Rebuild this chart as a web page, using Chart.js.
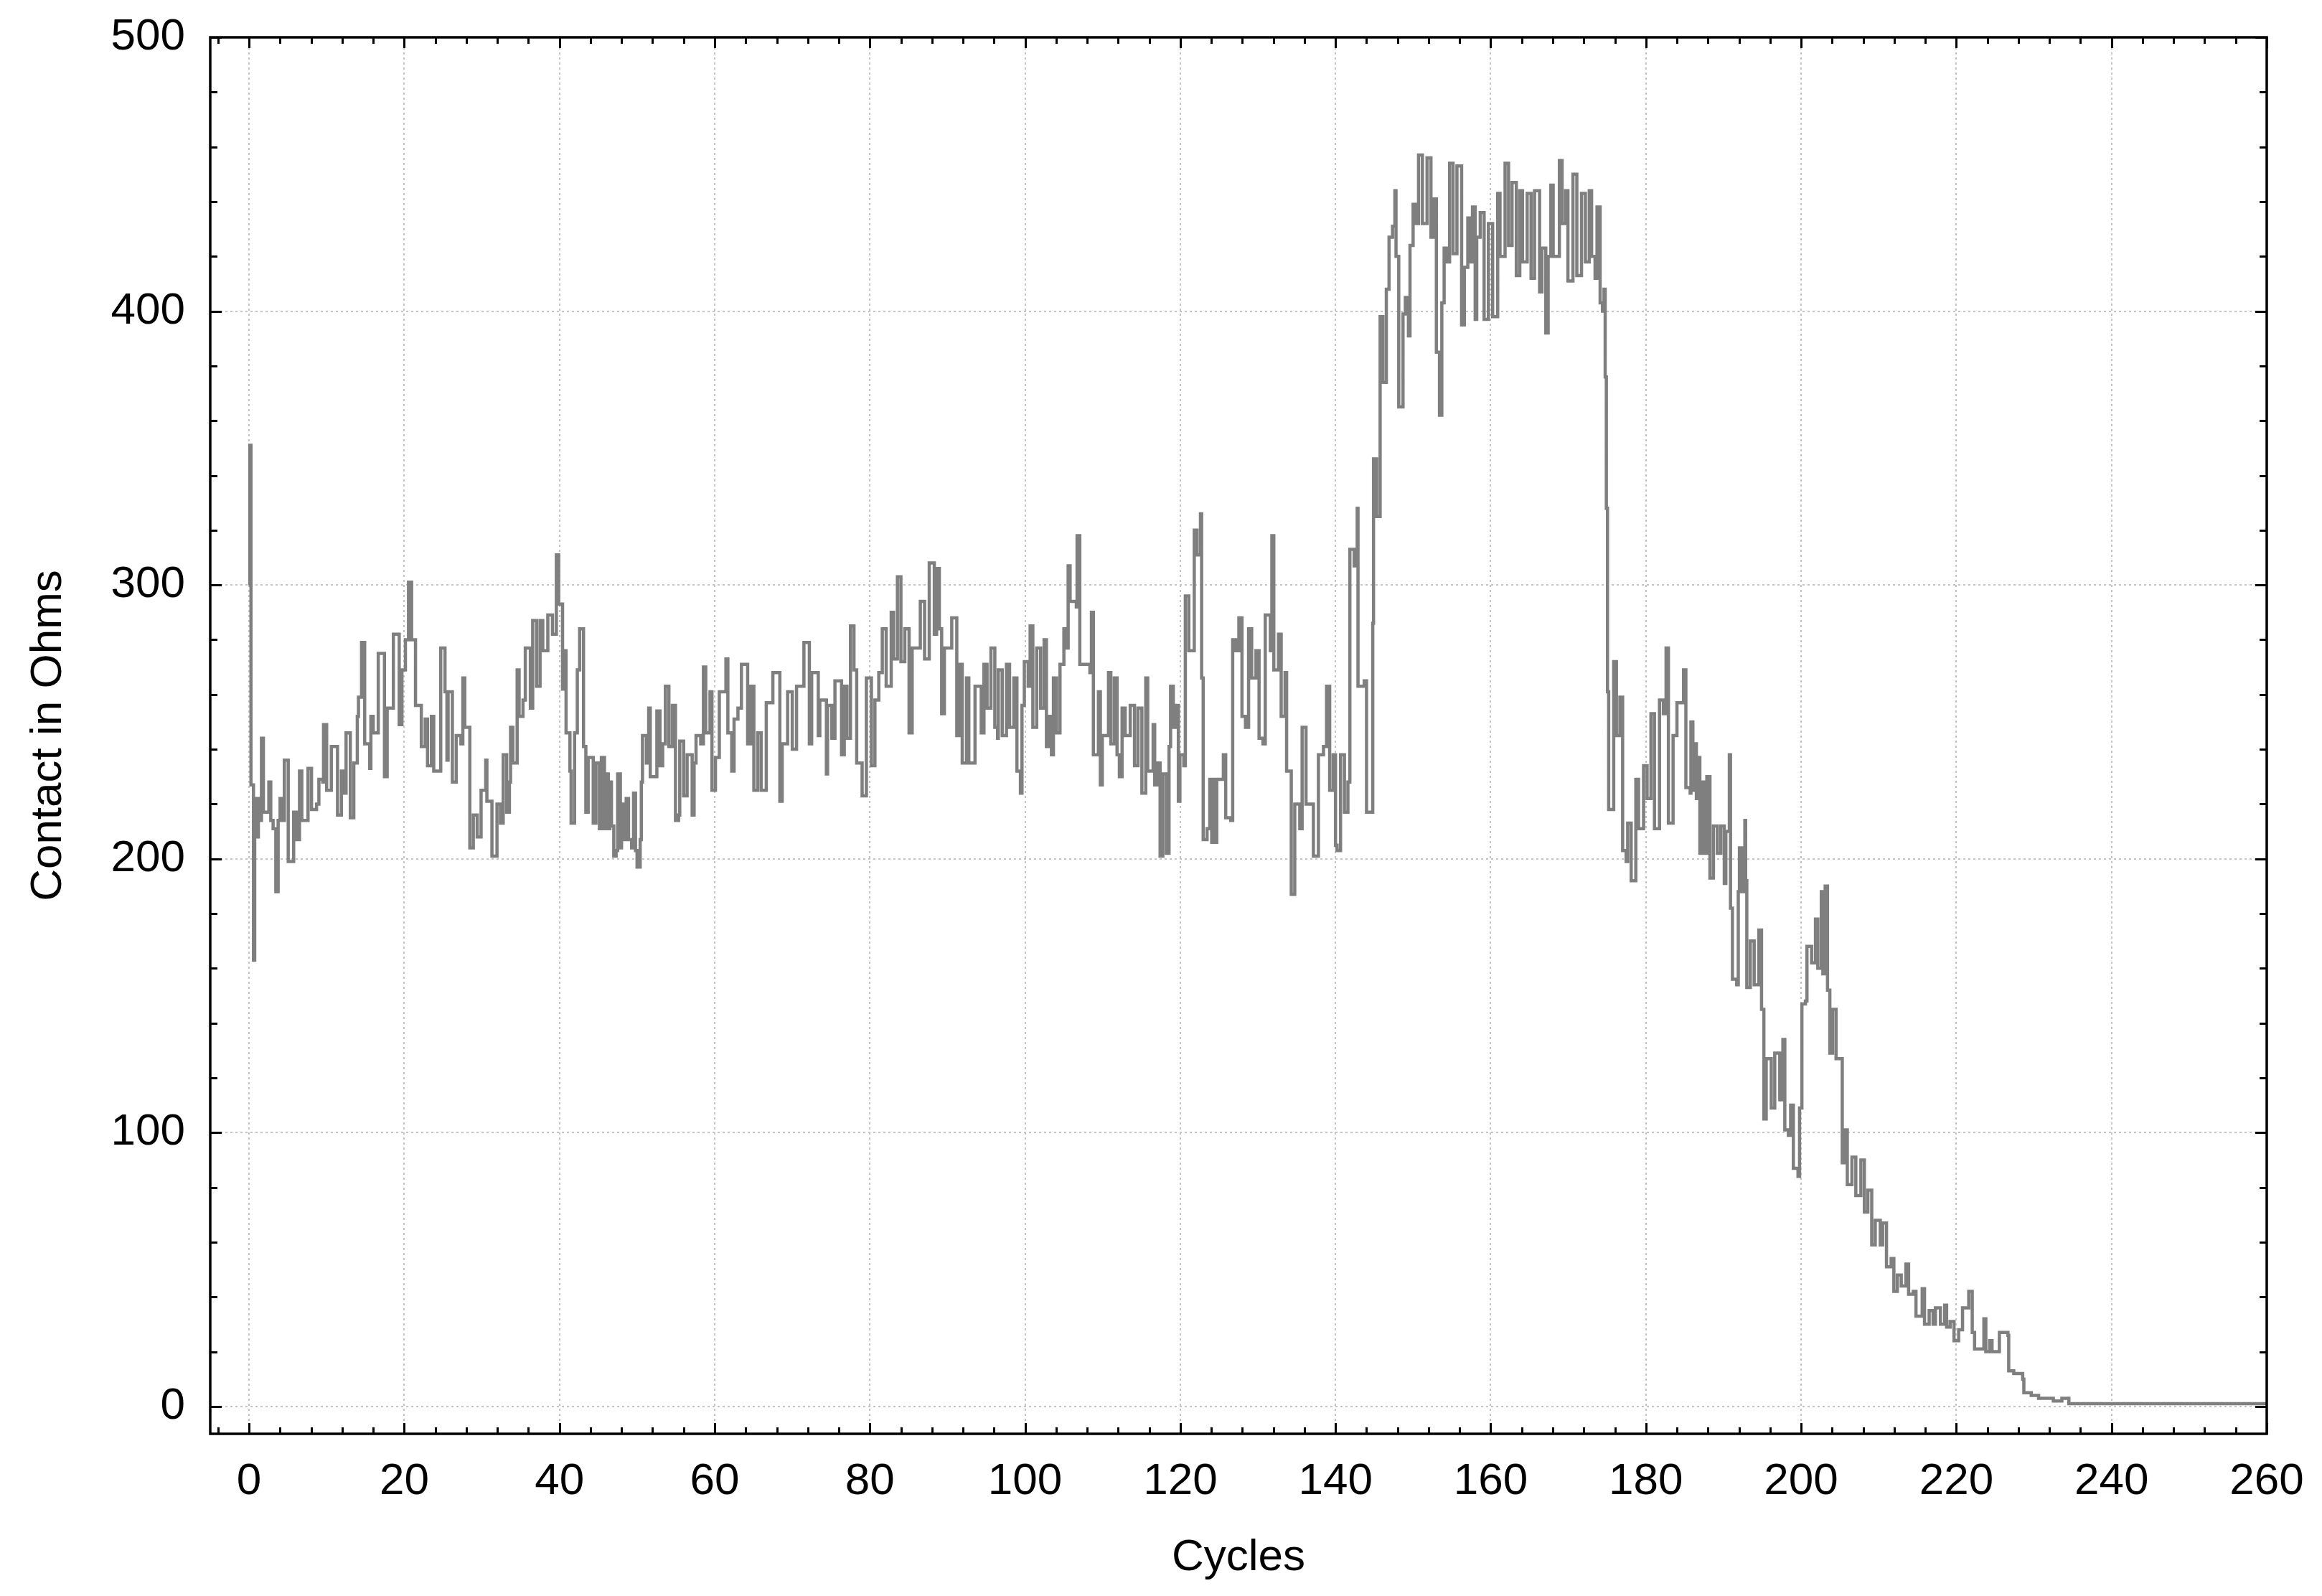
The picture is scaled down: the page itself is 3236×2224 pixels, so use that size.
<!DOCTYPE html>
<html>
<head>
<meta charset="utf-8">
<script src="https://cdn.jsdelivr.net/npm/chart.js@4/dist/chart.umd.min.js"></script>
<style>
  html, body { margin: 0; padding: 0; background: #ffffff; }
  #wrap { width: 3236px; height: 2224px; }
</style>
</head>
<body>
<div id="wrap"><canvas id="c" width="3236" height="2224"></canvas></div>
<script>
// ---- Data (cycle position, contact resistance in ohms) ----
const cycles = [
  0, 0.1, 0.25, 0.57, 0.73, 0.9, 1.05, 1.2, 1.37, 1.6,
  1.85, 2.55, 2.8, 3.1, 3.45, 3.75, 4.0, 4.35, 4.55, 5.05,
  5.75, 6.15, 6.5, 6.8, 7.6, 8.05, 8.7, 9.0, 9.5, 9.6,
  10.0, 10.6, 11.4, 11.9, 12.2, 12.5, 13.05, 13.5, 13.95, 14.1,
  14.5, 14.9, 15.55, 15.7, 16.0, 16.65, 17.45, 17.8, 18.6, 19.35,
  19.7, 20.15, 20.55, 20.95, 21.45, 22.2, 22.7, 23.0, 23.5, 23.8,
  24.7, 25.25, 25.5, 25.65, 26.2, 26.7, 27.3, 27.55, 27.8, 28.45,
  28.9, 29.4, 29.9, 30.5, 30.65, 31.3, 31.95, 32.4, 32.75, 33.2,
  33.55, 33.7, 34.0, 34.55, 34.8, 35.3, 35.6, 36.25, 36.55, 37.05,
  37.5, 37.85, 38.5, 39.1, 39.6, 39.9, 40.4, 40.7, 40.85, 41.35,
  41.5, 41.95, 42.3, 42.6, 43.1, 43.4, 43.7, 44.35, 44.7,
  45.15, 45.4, 45.8, 45.95, 46.3, 46.5, 46.7, 47.0, 47.3, 47.5,
  47.85, 48.0, 48.35, 48.6, 48.9, 49.3, 49.55, 49.8, 50.0, 50.4,
  50.55, 50.7, 51.2, 51.5, 51.7, 52.4, 52.55, 52.95, 53.3, 53.65,
  54.1, 54.55, 54.95, 55.35, 55.5, 56.0, 56.45, 57.1, 57.35, 57.6,
  58.2, 58.55, 58.85, 59.4, 59.65, 60.1, 60.6, 61.45, 61.7, 62.2,
  62.5, 63.0, 63.45, 64.25, 64.65, 65.05, 65.55, 66.0, 66.65, 67.5,
  68.4, 68.7, 69.4, 70.0, 70.55, 71.5, 72.2, 72.5, 73.35, 73.55,
  74.4, 74.55, 75.1, 75.5, 76.35, 76.7, 77.05, 77.5, 77.95, 78.3,
  79.0, 79.55, 80.2, 80.65, 81.15, 81.6, 82.1, 82.75, 83.05, 83.55,
  84.0, 84.5, 85.05, 85.45, 86.5, 87.05, 87.65, 88.3, 88.6, 88.95,
  89.25, 89.6, 90.55, 91.2, 91.5, 91.9, 92.45, 92.75, 93.55, 94.35,
  94.7,
  95.1, 95.6, 96.1, 96.45, 96.55, 97.05, 97.6, 98.0, 98.55, 98.95,
  99.4, 99.6, 99.9, 100.4, 100.65, 101.0, 101.5, 102.0, 102.45, 102.75,
  103.1, 103.4, 103.65, 104.05, 104.5, 105.0, 105.3, 105.55, 105.8, 106.6,
  106.7, 107.05, 108.35, 108.55, 108.8, 109.45, 109.7, 109.95, 110.75, 111.05,
  111.5, 111.85, 112.15, 112.5, 112.9, 113.55, 114.1, 114.55, 115.05, 115.55,
  115.8, 116.5, 116.7, 117.05, 117.4, 117.75, 118.2, 118.55, 118.75, 119.1,
  119.5, 119.75, 119.95, 120.45, 120.65, 121.1, 121.8, 122.15, 122.6, 122.75,
  122.95, 123.45, 123.8, 124.05, 124.25, 124.45, 124.7, 125.55, 125.85, 126.5,
  126.75, 127.15, 127.55, 127.95, 128.4, 128.8, 129.2, 129.75, 130.15, 130.65,
  130.95, 131.6, 131.8, 132.05, 132.65, 133.0, 133.5, 133.7, 134.3, 134.75,
  135.4, 135.7, 136.2, 137.15, 137.8, 138.45, 138.85, 139.25, 139.7, 140.0,
  140.2, 140.65, 141.15, 141.6, 141.85, 142.4, 142.8, 142.9, 143.7, 144.0,
  144.6, 144.8, 144.9, 145.3, 145.6, 145.75, 146.1, 146.4, 146.55, 146.9,
  147.35, 147.65, 147.8, 148.15, 148.55, 148.7, 149.0, 149.4, 149.6, 150.0,
  150.4, 150.7, 151.2, 151.8, 152.3, 152.6, 153.0, 153.4, 153.7, 154.0,
  154.35, 154.7, 155.15, 155.65, 156.25, 156.6, 157.05, 157.3, 157.65, 158.0,
  158.2, 158.65, 159.15, 159.7, 160.25, 160.9, 161.2, 161.85, 162.3, 162.75,
  163.3, 163.75, 164.1, 164.7, 165.2, 165.65, 166.3, 166.6, 167.1, 167.4,
  167.75, 168.05, 168.85, 169.2, 169.65, 169.95, 170.6, 171.1, 171.7, 172.2,
  172.7, 173.0, 173.45, 173.7, 174.1, 174.4, 174.6, 174.75, 174.9, 175.05,
  175.2, 175.55, 175.85, 176.2, 176.65, 177.0, 177.45, 177.65, 178.1, 178.7,
  179.05, 179.7, 180.15, 180.65, 181.1, 181.75, 182.25, 182.6, 182.9, 183.5,
  184.0,
  184.85, 185.15, 185.7, 185.8, 186.05, 186.2, 186.5, 186.8, 186.95, 187.3,
  187.6, 187.85, 188.25, 188.7, 189.2, 189.65, 190.1, 190.3, 190.75, 190.9,
  191.15, 191.7, 191.9, 192.05, 192.35, 192.75, 192.85, 193.0, 193.45, 193.95,
  194.55, 194.9, 195.2, 195.5, 196.15, 196.6, 197.25, 197.65, 197.9, 198.35,
  198.65, 199.0, 199.6, 199.8, 200.1, 200.55, 200.75, 201.05, 201.35, 201.85,
  202.15, 202.6, 202.8, 203.1, 203.4, 203.7, 204.05, 204.5, 205.3, 205.6,
  205.95, 206.55, 207.05, 207.7, 208.15, 208.6, 209.1, 209.55, 210.2, 210.5,
  211.0, 211.6, 211.95, 212.4, 212.9, 213.5, 213.85, 214.45, 214.8, 215.6,
  215.9, 216.5, 217.0, 217.3, 217.95, 218.5, 218.75, 219.2, 219.7, 220.3,
  220.8, 221.6, 222.05, 222.35, 223.55, 223.8, 224.3, 224.6, 225.55, 226.65,
  226.75, 227.4, 228.55, 228.7, 229.65, 230.6, 232.5, 233.6, 234.3, 234.5,
  260
];
const ohms = [
  300, 351, 227, 163, 213, 222, 208, 222, 214, 244,
  217, 228, 214, 211, 188, 214, 222, 214, 236, 199,
  217, 207, 232, 214, 233, 218, 220, 229, 228, 249,
  225, 241, 216, 232, 224, 246, 215, 235, 252, 259,
  279, 242, 233, 252, 246, 275, 230, 255, 282, 249,
  269, 280, 301, 280, 256, 241, 251, 234, 252, 232,
  277, 261, 236, 261, 228, 245, 242, 266, 248, 204,
  216, 208, 225, 236, 221, 201, 220, 213, 238, 217,
  228, 248, 235, 269, 252, 258, 277, 255, 287, 263,
  287, 276, 289, 282, 311, 293, 262, 276, 246, 232,
  213, 246, 269, 284, 241, 217, 237, 213, 235,
  211, 237, 211, 231, 211, 228, 212, 201, 203, 231,
  204, 220, 207, 222, 207, 204, 224, 203, 197, 207,
  228, 245, 235, 255, 230, 230, 254, 234, 242, 263,
  241, 256, 214, 216, 243, 223, 238, 216, 235, 245,
  242, 270, 246, 261, 225, 237, 261, 273, 246, 232,
  251, 255, 271, 242, 263, 225, 246, 225, 257, 268,
  221, 242, 261, 240, 263, 279, 242, 268, 245, 258,
  231, 256, 244, 265, 238, 263, 244, 285, 269, 235,
  223, 266, 234, 258, 268, 284, 263, 290, 273, 303,
  272, 284, 246, 277, 294, 273, 308, 282, 306, 284,
  253, 277, 288, 245, 271, 235, 266, 235, 263, 246,
  271,
  255, 277, 248, 244, 269, 245, 271, 248, 266, 232,
  224, 256, 272, 263, 285, 248, 277, 255, 280, 241,
  252, 238, 266, 246, 271, 284, 277, 307, 294, 292,
  318, 271, 268, 290, 238, 261, 227, 245, 268, 242,
  266, 238, 230, 255, 245, 256, 234, 255, 224, 266,
  232, 249, 227, 235, 201, 231, 202, 241, 263, 248,
  256, 221, 238, 234, 296, 276, 320, 311, 326, 266,
  207, 211, 229, 206, 229, 206, 229, 238, 215, 214,
  280, 276, 288, 252, 248, 284, 266, 276, 244, 242,
  289, 276, 318, 269, 282, 252, 268, 232, 187, 220,
  211, 248, 220, 201, 238, 241, 263, 225, 238, 205,
  203, 238, 217, 228, 313, 307, 328, 263, 265, 217,
  217, 286, 346, 325, 325, 398, 374, 374, 408, 427,
  431, 444, 420, 365, 365, 399, 405, 391, 424, 439,
  432, 457, 432, 456, 427, 441, 385, 362, 403, 423,
  418, 454, 421, 453, 395, 416, 434, 418, 438, 397,
  427, 436, 397, 432, 398, 443, 420, 454, 424, 447,
  413, 444, 418, 443, 412, 444, 407, 423, 392, 420,
  446, 420, 455, 432, 444, 411, 450, 413, 443, 418,
  444, 420, 412, 438, 403, 400, 408, 376, 328, 261,
  218, 218, 272, 245, 259, 203, 199, 213, 192, 229,
  211, 234, 222, 253, 211, 258, 253, 277, 213, 245,
  257,
  269, 226, 224, 250, 225, 242, 222, 237, 202, 228,
  202, 230, 193, 212, 202, 212, 191, 210, 238, 182,
  156, 154, 188, 204, 188, 214, 192, 153, 170, 154,
  174, 145, 105, 127, 109, 129, 112, 134, 101, 99,
  110, 87, 84, 109, 147, 148, 168, 168, 162, 178,
  160, 188, 158, 190, 152, 129, 145, 127, 89, 101,
  81, 91, 77, 90, 71, 79, 59, 68, 59, 67,
  51, 54, 42, 48, 44, 52, 41, 42, 33, 43,
  30, 35, 30, 36, 30, 37, 29, 31, 24, 28,
  36, 42, 27, 21, 32, 20, 24, 20, 27, 26,
  13, 12, 10, 5, 4, 3, 2, 3, 3, 1,
  1
];
const xTickValues = [0, 20, 40, 60, 80, 100, 120, 140, 160, 180, 200, 220, 240, 260];
const yTickValues = [0, 100, 200, 300, 400, 500];
const xTitle = 'Cycles';
const yTitle = 'Contact in Ohms';

// ---- Build points for the library ----
const n = Math.min(cycles.length, ohms.length);
const points = [];
for (let i = 0; i < n; i++) points.push({ x: cycles[i], y: ohms[i] });

const FONT = "'Liberation Sans', Arial, sans-serif";

// Frame and inward tick marks (major + minor) like the original plotting software
const frameTicks = {
  id: 'frameTicks',
  afterDraw(chart) {
    const { ctx, chartArea: a, scales: { x, y } } = chart;
    ctx.save();
    ctx.strokeStyle = '#000';
    ctx.lineWidth = 3.5;
    ctx.strokeRect(a.left, a.top, a.right - a.left, a.bottom - a.top);
    ctx.lineWidth = 3;
    ctx.beginPath();
    const xMinor = 4, xMajor = 20, yMinor = 20, yMajor = 100;
    for (let v = Math.ceil(x.min / xMinor) * xMinor; v <= x.max + 1e-9; v += xMinor) {
      const px = Math.round(x.getPixelForValue(v)) + 0.5;
      const len = (v % xMajor === 0) ? 15 : 9;
      ctx.moveTo(px, a.bottom); ctx.lineTo(px, a.bottom - len);
      ctx.moveTo(px, a.top); ctx.lineTo(px, a.top + len);
    }
    for (let v = Math.ceil(y.min / yMinor) * yMinor; v <= y.max + 1e-9; v += yMinor) {
      const py = Math.round(y.getPixelForValue(v)) + 0.5;
      const len = (v % yMajor === 0) ? 16 : 10;
      ctx.moveTo(a.left, py); ctx.lineTo(a.left + len, py);
      ctx.moveTo(a.right, py); ctx.lineTo(a.right - len, py);
    }
    ctx.stroke();
    ctx.restore();
  }
};

Chart.defaults.font.family = FONT;
Chart.defaults.color = '#000';

new Chart(document.getElementById('c'), {
  type: 'line',
  data: {
    datasets: [{
      data: points,
      borderColor: '#7f7f7f',
      borderWidth: 4.5,
      pointRadius: 0,
      stepped: true,
      fill: false,
      tension: 0
    }]
  },
  options: {
    responsive: false,
    animation: false,
    devicePixelRatio: 1,
    parsing: false,
    layout: { padding: { top: 52, right: 77, bottom: 0, left: 0 } },
    plugins: { legend: { display: false }, tooltip: { enabled: false } },
    scales: {
      x: {
        type: 'linear',
        min: -5,
        max: 260,
        afterFit: (s) => { s.height = 226; s.paddingLeft = 0; s.paddingRight = 0; },
        afterBuildTicks: (s) => { s.ticks = xTickValues.map(v => ({ value: v })); },
        ticks: { padding: 30, font: { size: 62, family: FONT }, color: '#000', maxRotation: 0, autoSkip: false },
        grid: { color: '#c4c4c4', lineWidth: 2, drawTicks: false },
        border: { display: false, dash: [3, 4] },
        title: { display: true, text: xTitle, font: { size: 62, family: FONT }, color: '#000', padding: { top: 0, bottom: 16 } }
      },
      y: {
        type: 'linear',
        min: -10,
        max: 500,
        afterFit: (s) => { s.width = 293; s.paddingTop = 0; s.paddingBottom = 0; },
        afterBuildTicks: (s) => { s.ticks = yTickValues.map(v => ({ value: v })); },
        ticks: { padding: 35, font: { size: 62, family: FONT }, color: '#000', autoSkip: false },
        grid: { color: '#c4c4c4', lineWidth: 2, drawTicks: false },
        border: { display: false, dash: [3, 4] },
        title: { display: true, text: yTitle, font: { size: 62, family: FONT }, color: '#000', padding: { top: 31, bottom: 0 } }
      }
    }
  },
  plugins: [frameTicks]
});
</script>
</body>
</html>
